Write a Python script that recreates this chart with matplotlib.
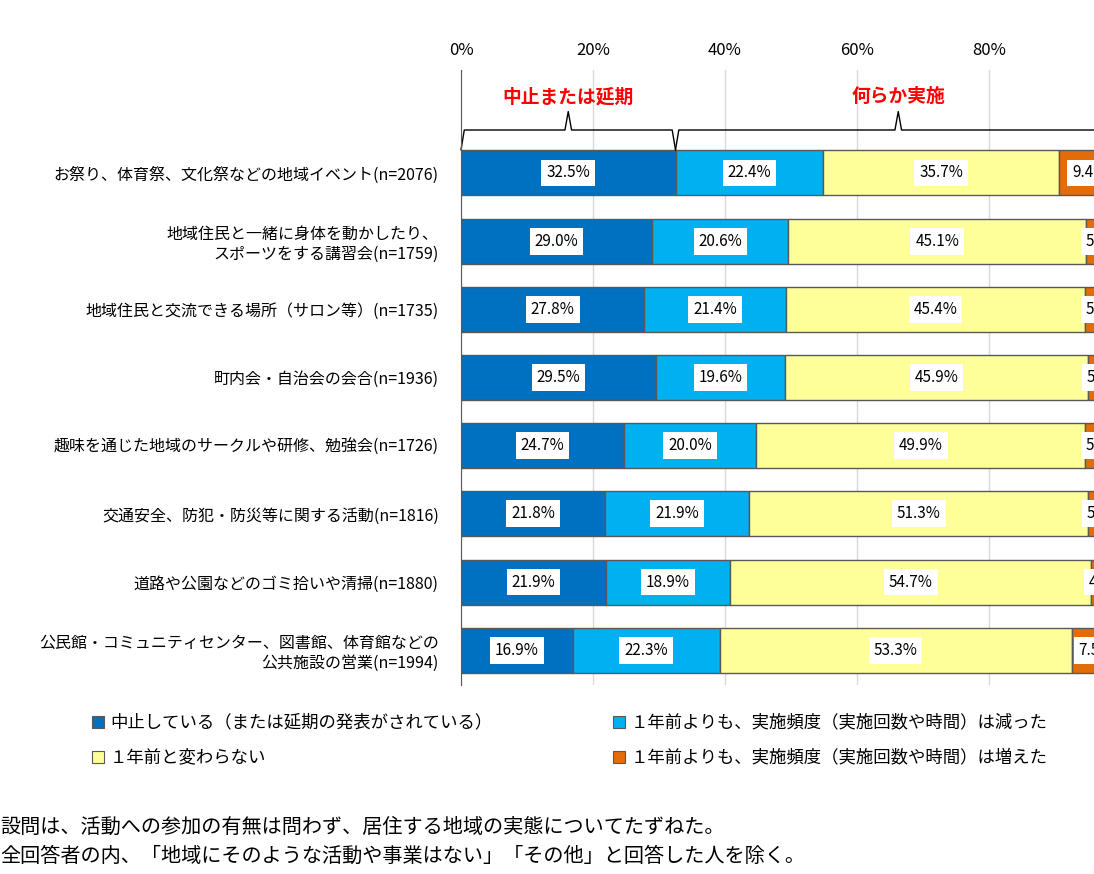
import matplotlib
matplotlib.use('Agg')
import matplotlib.pyplot as plt
from matplotlib.patches import Rectangle
import numpy as np

plt.rcParams['font.family'] = ['Noto Sans CJK JP', 'DejaVu Sans']

categories = [
    'お祭り、体育祭、文化祭などの地域イベント(n=2076)',
    '地域住民と一緒に身体を動かしたり、\nスポーツをする講習会(n=1759)',
    '地域住民と交流できる場所（サロン等）(n=1735)',
    '町内会・自治会の会合(n=1936)',
    '趣味を通じた地域のサークルや研修、勉強会(n=1726)',
    '交通安全、防犯・防災等に関する活動(n=1816)',
    '道路や公園などのゴミ拾いや清掃(n=1880)',
    '公民館・コミュニティセンター、図書館、体育館などの\n公共施設の営業(n=1994)',
]
stopped = [32.5, 29.0, 27.8, 29.5, 24.7, 21.8, 21.9, 16.9]
decreased = [22.4, 20.6, 21.4, 19.6, 20.0, 21.9, 18.9, 22.3]
same = [35.7, 45.1, 45.4, 45.9, 49.9, 51.3, 54.7, 53.3]
increased = [9.4, 5.3, 5.4, 5.0, 5.4, 5.0, 4.5, 7.5]
series_names = ['中止している（または延期の発表がされている）',
                '１年前よりも、実施頻度（実施回数や時間）は減った',
                '１年前と変わらない',
                '１年前よりも、実施頻度（実施回数や時間）は増えた']
colors = ['#0070C0', '#00B0F0', '#FFFF99', '#E36C09']

W, H = 1094, 874
fig = plt.figure(figsize=(W / 100, H / 100), dpi=100)
ax = fig.add_axes([461 / W, 1 - 685 / H, 660 / W, 615 / H])

y = np.arange(len(categories))
left = np.zeros(len(categories))
for vals, c in zip([stopped, decreased, same, increased], colors):
    vals = np.array(vals)
    ax.barh(y, vals, left=left, height=0.66, color=c, edgecolor='#595959', linewidth=1)
    for yi, l, v in zip(y, left, vals):
        ax.text(l + v / 2, yi, f'{v:.1f}%', ha='center', va='center', fontsize=11,
                bbox=dict(facecolor='white', edgecolor='none', pad=3.5))
    left += vals

ax.set_xlim(0, 100)
ax.set_ylim(7.51, -1.51)
ax.xaxis.tick_top()
ax.set_xticks([0, 20, 40, 60, 80, 100])
ax.set_xticklabels([f'{t}%' for t in [0, 20, 40, 60, 80, 100]], fontsize=12)
ax.tick_params(axis='x', length=0, pad=8)
ax.set_yticks(y)
ax.set_yticklabels(categories, fontsize=11.5)
ax.tick_params(axis='y', length=0, pad=16)
for s in ['top', 'right', 'bottom']:
    ax.spines[s].set_visible(False)
ax.spines['left'].set_color('#595959')
ax.grid(axis='x', color='#D9D9D9', linewidth=1)
ax.set_axisbelow(True)


def brace(x0, x1, label):
    xm = (x0 + x1) / 2
    ax.plot([x0, x0 + 0.5, xm - 0.5, xm, xm + 0.5, x1 - 0.5, x1],
            [-0.34, -0.63, -0.63, -0.9, -0.63, -0.63, -0.34],
            color='black', lw=1, clip_on=False)
    ax.text(xm, -1.12, label, ha='center', va='center', color='red',
            fontsize=13.5, fontweight='bold')


brace(0, stopped[0], '中止または延期')
brace(stopped[0], 100, '何らか実施')

# legend
for i, (name, c) in enumerate(zip(series_names, colors)):
    col, row = i % 2, i // 2
    xs = [92, 613][col]
    ys = [722, 757][row]
    fig.patches.append(Rectangle((xs / W, 1 - (ys + 6) / H), 12 / W, 12 / H,
                                 transform=fig.transFigure, facecolor=c,
                                 edgecolor='#595959', lw=0.8))
    fig.text((xs + 18) / W, 1 - ys / H, name, fontsize=12.5, va='center')

fig.text(0, 1 - 827 / H, '設問は、活動への参加の有無は問わず、居住する地域の実態についてたずねた。',
         fontsize=14.5, va='center')
fig.text(0, 1 - 856 / H, '全回答者の内、「地域にそのような活動や事業はない」「その他」と回答した人を除く。',
         fontsize=14.5, va='center')

fig.savefig('out.png', dpi=100)
